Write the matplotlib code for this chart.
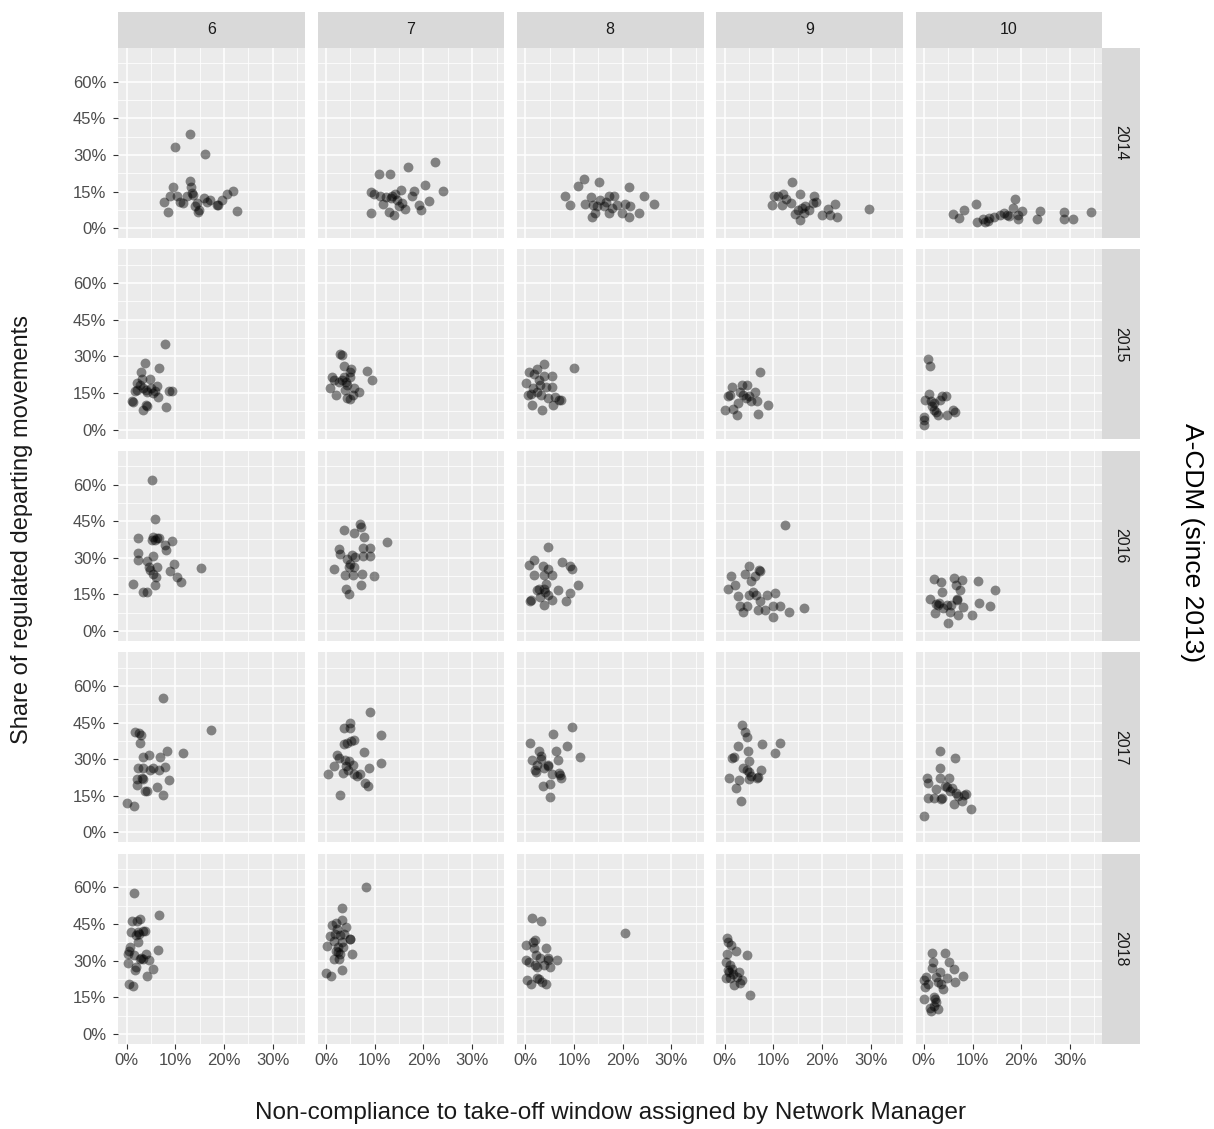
import matplotlib
matplotlib.use('Agg')
import matplotlib.pyplot as plt
from matplotlib.ticker import PercentFormatter, MultipleLocator

plt.rcParams['font.family'] = ['Liberation Sans', 'DejaVu Sans']

months = [6, 7, 8, 9, 10]
years = [2014, 2015, 2016, 2017, 2018]

# values in percent: x = non-compliance, y = share of regulated departures
# ---- 2014 ----
x14_6 = [7.7, 8.4, 9.5, 9.9, 8.9, 10.4, 11.6, 12.9, 13.0, 13.2, 13.4, 13.7, 12.3, 14.0, 14.7, 14.9, 16.1, 15.8, 16.4, 17.1, 18.5, 18.8, 19.5, 20.5, 21.9, 22.7, 11.0, 14.4]
y14_6 = [10.9, 6.7, 16.9, 33.2, 13.2, 13.0, 10.2, 38.6, 19.4, 16.8, 14.3, 13.5, 13.0, 8.9, 6.5, 7.5, 30.3, 12.3, 10.9, 11.6, 9.5, 9.5, 11.6, 14.1, 15.1, 7.0, 10.9, 10.2]
x14_7 = [9.2, 9.2, 9.8, 10.9, 13.1, 11.1, 11.7, 13.0, 13.6, 13.9, 14.2, 14.6, 15.3, 15.6, 16.3, 16.8, 17.7, 18.0, 19.0, 19.5, 20.3, 21.1, 22.3, 24.0, 15.0, 13.3, 12.4]
y14_7 = [6.4, 15.0, 14.1, 22.1, 22.2, 13.0, 10.0, 6.8, 13.0, 5.5, 14.1, 11.6, 15.7, 10.2, 8.0, 25.0, 13.2, 15.4, 9.5, 7.5, 17.7, 11.2, 27.0, 15.3, 8.9, 12.3, 12.7]
x14_8 = [8.1, 9.2, 10.9, 12.1, 12.2, 13.4, 13.8, 14.4, 13.7, 15.2, 15.4, 16.2, 17.2, 17.2, 17.8, 18.3, 18.9, 19.9, 20.4, 21.2, 21.2, 21.5, 23.3, 24.3, 26.5, 16.6, 14.8]
y14_8 = [13.0, 9.5, 17.1, 20.3, 9.8, 12.6, 9.5, 6.4, 4.4, 18.8, 11.6, 8.9, 13.0, 6.1, 8.2, 13.0, 9.5, 6.4, 10.0, 16.8, 4.8, 8.9, 6.4, 13.2, 9.8, 10.9, 8.9]
x14_9 = [13.8, 15.4, 18.4, 9.7, 10.1, 11.0, 12.0, 11.8, 13.6, 14.5, 15.0, 15.4, 15.8, 16.6, 17.4, 18.2, 18.8, 19.9, 21.2, 21.7, 22.6, 23.1, 29.6, 12.6, 16.2]
y14_9 = [19.1, 14.1, 13.0, 9.5, 13.0, 13.4, 13.9, 9.5, 10.2, 5.7, 7.5, 3.4, 8.2, 8.9, 7.5, 10.2, 10.9, 5.5, 7.8, 5.5, 10.1, 4.8, 8.0, 11.9, 6.1]
x14_10 = [5.9, 7.3, 8.3, 10.7, 10.9, 12.1, 13.1, 13.3, 14.4, 15.6, 16.4, 17.4, 18.2, 18.6, 19.4, 20.2, 23.2, 23.8, 28.7, 28.8, 30.6, 34.2, 12.5, 19.3, 17.1]
y14_10 = [5.9, 4.1, 7.5, 10.0, 2.7, 3.7, 3.1, 4.1, 4.8, 5.6, 6.1, 5.0, 8.2, 11.9, 3.7, 7.2, 3.7, 7.2, 6.8, 3.7, 3.7, 6.5, 2.7, 5.5, 5.5]

# ---- 2015 ----
x15_6 = [1.2, 1.0, 3.4, 4.0, 4.2, 3.8, 2.9, 3.1, 2.2, 1.7, 3.4, 4.0, 4.8, 4.9, 5.8, 6.3, 6.5, 6.7, 7.9, 8.0, 8.6, 9.2, 2.7, 5.5, 4.2, 2.1]
y15_6 = [11.5, 11.8, 8.1, 10.1, 9.5, 27.3, 23.4, 20.9, 18.9, 15.8, 17.2, 16.2, 20.9, 16.9, 15.9, 17.8, 13.5, 25.3, 35.1, 9.1, 15.8, 15.8, 18.2, 14.9, 15.5, 16.2]
x15_7 = [0.8, 1.2, 1.6, 2.1, 2.9, 3.3, 2.6, 3.6, 3.7, 4.1, 4.4, 4.9, 5.2, 5.0, 4.4, 4.9, 5.5, 5.8, 6.7, 8.4, 9.4, 4.0, 3.3]
y15_7 = [17.2, 21.6, 20.3, 14.2, 30.9, 30.7, 19.6, 26.1, 21.6, 19.6, 18.2, 23.6, 25.0, 21.6, 13.1, 12.4, 14.2, 16.9, 15.5, 23.9, 20.3, 16.2, 20.3]
x15_8 = [0.1, 0.8, 1.2, 1.3, 1.7, 2.4, 2.4, 3.0, 3.2, 3.5, 3.9, 3.9, 4.3, 4.7, 5.4, 5.4, 5.7, 6.2, 6.9, 7.3, 10.0, 1.6, 2.8, 0.6]
y15_8 = [19.0, 23.5, 14.6, 9.9, 22.7, 24.9, 15.6, 18.1, 14.3, 7.9, 26.8, 21.8, 17.3, 12.9, 21.8, 17.3, 9.9, 13.2, 12.2, 12.2, 25.2, 17.0, 20.4, 14.3]
x15_9 = [0.1, 0.8, 1.6, 1.7, 2.5, 2.8, 3.6, 3.8, 4.3, 4.7, 5.1, 5.4, 6.2, 6.7, 6.9, 7.3, 8.9, 3.2, 1.2]
y15_9 = [7.9, 13.6, 17.3, 8.6, 6.1, 10.9, 18.1, 14.3, 12.9, 18.4, 13.6, 11.6, 15.4, 11.6, 6.5, 23.5, 9.9, 15.6, 14.3]
x15_10 = [0.1, 0.1, 0.1, 0.8, 1.2, 1.0, 0.2, 1.4, 1.6, 2.0, 2.4, 2.8, 3.3, 3.8, 4.6, 4.7, 5.9, 6.3, 2.0]
y15_10 = [5.0, 2.0, 4.1, 29.0, 25.9, 14.7, 12.2, 11.6, 9.5, 8.2, 7.1, 6.1, 12.2, 13.6, 13.6, 6.1, 8.2, 7.2, 10.9]

# ---- 2016 ----
x16_6 = [1.2, 2.3, 2.3, 2.4, 3.4, 4.2, 4.1, 4.5, 4.8, 5.1, 5.1, 5.3, 5.5, 5.8, 5.8, 6.0, 6.3, 5.8, 6.2, 6.7, 7.9, 8.1, 8.9, 9.2, 9.8, 10.3, 11.1, 15.2, 5.5]
y16_6 = [19.4, 37.9, 31.9, 29.2, 16.0, 16.0, 28.8, 26.1, 24.8, 61.7, 37.3, 30.9, 38.7, 45.7, 18.7, 22.1, 26.1, 37.3, 37.9, 37.9, 35.2, 33.3, 24.4, 36.9, 27.5, 22.1, 20.0, 25.8, 23.4]
x16_7 = [1.6, 2.6, 2.9, 3.8, 4.0, 4.2, 4.7, 4.3, 4.7, 5.0, 5.3, 5.5, 5.7, 6.0, 6.9, 7.2, 7.1, 7.4, 7.5, 7.9, 7.7, 9.1, 9.1, 9.8, 12.5, 5.7]
y16_7 = [25.2, 33.6, 31.5, 41.4, 23.0, 17.1, 15.3, 29.5, 26.1, 27.5, 31.1, 23.0, 40.3, 30.2, 43.7, 42.4, 18.9, 23.4, 34.0, 38.7, 30.6, 34.2, 30.9, 22.5, 36.3, 26.1]
x16_8 = [0.8, 0.9, 1.2, 1.7, 1.8, 2.4, 2.8, 3.0, 3.6, 3.8, 3.9, 4.1, 4.3, 4.6, 4.6, 4.7, 5.4, 5.5, 3.9, 6.7, 7.5, 8.3, 9.1, 9.1, 9.6, 10.9]
y16_8 = [27.1, 12.2, 12.6, 23.0, 29.2, 16.6, 17.3, 13.9, 26.8, 23.0, 17.3, 16.0, 19.4, 34.6, 14.6, 25.2, 23.0, 12.6, 10.6, 16.6, 28.4, 12.2, 15.7, 26.8, 25.2, 18.7]
x16_9 = [0.6, 1.3, 2.2, 2.8, 3.2, 3.8, 4.1, 4.6, 5.0, 5.4, 5.8, 6.3, 6.5, 6.8, 7.1, 7.2, 7.3, 8.3, 8.8, 9.9, 9.9, 10.3, 11.4, 12.5, 13.3, 16.3, 5.1]
y16_9 = [17.3, 22.5, 18.7, 14.3, 10.3, 7.8, 23.4, 10.3, 26.8, 20.3, 16.0, 22.7, 14.6, 8.5, 24.8, 12.2, 24.4, 8.5, 14.9, 10.3, 5.8, 15.7, 10.3, 43.3, 7.8, 9.6, 14.6]
x16_10 = [1.2, 2.0, 2.2, 3.0, 3.2, 3.6, 3.8, 3.9, 4.7, 4.9, 5.4, 6.2, 6.5, 6.7, 6.9, 7.1, 7.5, 7.9, 8.1, 9.9, 11.2, 11.4, 13.6, 14.6, 5.5, 2.4]
y16_10 = [13.3, 21.4, 7.2, 10.6, 11.6, 20.0, 16.0, 9.5, 10.8, 3.1, 7.8, 21.6, 18.7, 12.6, 13.3, 6.5, 16.6, 20.7, 9.9, 6.5, 20.4, 11.6, 10.3, 16.6, 10.6, 11.2]

# ---- 2017 ----
x17_6 = [0.1, 1.4, 1.7, 2.1, 2.2, 2.4, 2.6, 2.9, 2.7, 3.1, 3.3, 3.4, 3.4, 3.8, 4.2, 4.5, 4.7, 5.5, 6.3, 6.7, 6.8, 7.4, 7.5, 7.9, 8.2, 8.6, 11.5, 17.3]
y17_6 = [12.2, 10.8, 41.1, 21.7, 19.6, 26.2, 40.7, 40.0, 36.6, 22.4, 21.7, 30.8, 26.2, 16.9, 16.9, 31.8, 25.7, 26.2, 18.6, 25.7, 30.8, 55.1, 15.3, 26.7, 33.2, 21.3, 32.5, 42.0]
x17_7 = [0.5, 1.6, 2.3, 2.6, 2.9, 3.5, 3.6, 3.8, 4.0, 4.2, 4.3, 4.5, 4.9, 5.0, 5.1, 5.7, 5.5, 5.8, 6.4, 6.9, 7.9, 8.1, 8.6, 8.8, 9.1, 11.3, 11.3, 4.7]
y17_7 = [24.0, 27.1, 31.6, 30.5, 15.3, 24.4, 42.7, 36.2, 29.8, 27.1, 36.6, 25.7, 44.7, 42.7, 37.3, 37.9, 27.8, 24.0, 23.0, 24.0, 32.9, 20.3, 19.0, 26.2, 49.5, 40.0, 28.5, 29.1]
x17_8 = [1.0, 1.4, 2.0, 2.2, 2.8, 3.2, 3.3, 3.6, 3.9, 4.6, 4.7, 5.0, 5.0, 5.4, 5.7, 6.3, 6.7, 6.9, 7.3, 7.1, 8.5, 9.6, 11.3, 2.4]
y17_8 = [36.6, 29.8, 25.7, 24.8, 33.2, 31.2, 30.2, 19.0, 26.4, 27.8, 27.1, 19.9, 14.5, 24.0, 40.2, 33.2, 29.8, 24.4, 22.1, 23.4, 35.5, 43.2, 31.0, 27.8]
x17_9 = [0.9, 1.6, 2.0, 2.4, 2.8, 3.0, 3.3, 3.6, 4.1, 4.7, 4.9, 5.1, 5.1, 5.1, 5.4, 4.7, 6.7, 6.9, 7.5, 7.7, 10.3, 11.4, 3.8]
y17_9 = [22.4, 30.5, 30.8, 18.0, 35.5, 21.3, 12.9, 43.8, 41.1, 38.9, 33.5, 29.1, 24.8, 21.7, 23.0, 25.7, 22.4, 22.6, 25.7, 36.2, 32.5, 36.6, 26.4]
x17_10 = [0.1, 0.6, 0.8, 0.9, 2.0, 2.5, 3.3, 3.3, 3.3, 3.6, 3.8, 4.7, 5.1, 5.4, 5.7, 6.2, 6.3, 6.5, 7.1, 7.9, 8.3, 8.7, 9.7, 4.3]
y17_10 = [6.8, 22.1, 20.3, 14.2, 14.2, 17.6, 33.2, 26.2, 22.4, 13.6, 14.2, 18.6, 22.4, 16.9, 18.3, 11.5, 30.5, 16.3, 14.9, 12.9, 15.3, 15.9, 9.5, 19.0]

# ---- 2018 ----
x18_6 = [0.3, 0.5, 0.7, 0.3, 0.5, 0.8, 1.0, 1.2, 1.5, 1.4, 1.7, 1.9, 1.9, 2.2, 2.4, 2.6, 2.4, 2.7, 2.9, 3.4, 3.8, 3.4, 4.0, 4.2, 4.5, 5.5, 6.5, 6.6, 2.7]
y18_6 = [28.8, 33.8, 35.5, 32.8, 20.6, 41.7, 46.1, 19.7, 57.7, 32.2, 26.1, 27.4, 40.6, 46.4, 41.7, 41.0, 37.6, 47.1, 31.1, 42.3, 42.3, 30.5, 32.6, 23.7, 30.1, 26.7, 34.2, 48.8, 30.8]
x18_7 = [0.1, 0.3, 0.8, 1.1, 1.2, 1.6, 1.7, 1.9, 2.1, 2.3, 2.1, 2.4, 2.4, 2.8, 2.9, 3.2, 3.3, 3.3, 3.3, 3.5, 3.6, 4.2, 4.9, 5.0, 5.3, 8.3, 2.6]
y18_7 = [25.1, 36.0, 40.0, 23.7, 44.6, 30.8, 37.9, 41.0, 45.5, 43.0, 33.8, 33.5, 35.5, 40.3, 32.8, 51.4, 46.8, 37.6, 26.1, 35.5, 41.0, 43.7, 38.7, 38.7, 32.8, 60.0, 30.8]
x18_8 = [0.1, 0.2, 0.4, 1.2, 1.4, 1.6, 1.7, 2.0, 2.2, 2.4, 2.5, 2.8, 3.0, 3.2, 3.5, 3.9, 4.2, 4.3, 4.6, 4.7, 5.1, 6.5, 20.5, 0.8, 2.0]
y18_8 = [36.5, 30.1, 22.0, 20.6, 47.5, 37.6, 35.1, 38.3, 32.2, 27.4, 22.9, 22.4, 31.1, 46.4, 21.3, 28.1, 20.6, 35.1, 31.1, 30.1, 27.4, 30.1, 41.4, 29.4, 28.1]
x18_9 = [0.4, 0.8, 0.2, 0.4, 0.2, 0.6, 0.9, 1.2, 1.4, 1.6, 1.8, 2.0, 2.4, 2.5, 3.0, 3.2, 3.6, 4.5, 5.3, 1.2]
y18_9 = [39.2, 37.6, 29.4, 32.8, 22.7, 26.1, 25.4, 22.7, 36.5, 26.7, 24.7, 19.9, 33.8, 23.3, 25.4, 21.0, 22.0, 32.2, 16.1, 28.1]
x18_10 = [0.1, 0.2, 0.1, 0.4, 0.8, 1.2, 1.4, 1.6, 1.7, 1.8, 2.0, 2.0, 2.2, 2.5, 3.0, 2.5, 3.0, 3.3, 3.9, 4.3, 5.1, 4.7, 6.2, 6.3, 8.1, 3.6]
y18_10 = [22.0, 19.3, 14.2, 23.3, 20.6, 10.4, 9.4, 27.0, 33.2, 29.4, 15.2, 11.5, 14.2, 13.2, 10.2, 23.3, 21.3, 25.4, 18.3, 33.2, 29.4, 22.7, 26.5, 21.3, 23.7, 20.3]

panels = {
    (2014, 6): (x14_6, y14_6), (2014, 7): (x14_7, y14_7), (2014, 8): (x14_8, y14_8),
    (2014, 9): (x14_9, y14_9), (2014, 10): (x14_10, y14_10),
    (2015, 6): (x15_6, y15_6), (2015, 7): (x15_7, y15_7), (2015, 8): (x15_8, y15_8),
    (2015, 9): (x15_9, y15_9), (2015, 10): (x15_10, y15_10),
    (2016, 6): (x16_6, y16_6), (2016, 7): (x16_7, y16_7), (2016, 8): (x16_8, y16_8),
    (2016, 9): (x16_9, y16_9), (2016, 10): (x16_10, y16_10),
    (2017, 6): (x17_6, y17_6), (2017, 7): (x17_7, y17_7), (2017, 8): (x17_8, y17_8),
    (2017, 9): (x17_9, y17_9), (2017, 10): (x17_10, y17_10),
    (2018, 6): (x18_6, y18_6), (2018, 7): (x18_7, y18_7), (2018, 8): (x18_8, y18_8),
    (2018, 9): (x18_9, y18_9), (2018, 10): (x18_10, y18_10),
}

# layout in pixels
W, H = 1214, 1129
fig = plt.figure(figsize=(W / 100, H / 100), dpi=100)


def box(left, top, width, height):
    return [left / W, 1 - (top + height) / H, width / W, height / H]


def strip_axes(rect, label, rotation):
    sa = fig.add_axes(rect)
    sa.set_facecolor('#D9D9D9')
    sa.set_xticks([])
    sa.set_yticks([])
    for s in sa.spines.values():
        s.set_visible(False)
    sa.text(0.5, 0.5, label, ha='center', va='center', rotation=rotation,
            fontsize=11.5, color='#1A1A1A', transform=sa.transAxes)


panel_l, panel_t = 118.3, 48
panel_w, panel_h = 186.7, 190
step_x, step_y = 199.3, 201.4
strip = 36

for r, year in enumerate(years):
    for c, month in enumerate(months):
        left = panel_l + c * step_x
        top = panel_t + r * step_y
        ax = fig.add_axes(box(left, top, panel_w, panel_h))
        ax.set_facecolor('#EBEBEB')
        for s in ax.spines.values():
            s.set_visible(False)
        ax.set_xlim(-1.72, 36.6)
        ax.set_ylim(-4.0, 73.8)
        ax.xaxis.set_major_locator(MultipleLocator(10))
        ax.xaxis.set_minor_locator(MultipleLocator(5))
        ax.yaxis.set_major_locator(MultipleLocator(15))
        ax.yaxis.set_minor_locator(MultipleLocator(7.5))
        ax.grid(which='major', color='white', lw=1.1)
        ax.grid(which='minor', color='white', lw=0.55)
        ax.set_axisbelow(True)
        ax.tick_params(which='minor', length=0)
        ax.xaxis.set_major_formatter(PercentFormatter(100, decimals=0))
        ax.yaxis.set_major_formatter(PercentFormatter(100, decimals=0))
        ax.tick_params(which='major', length=3.5, width=0.8, color='#333333',
                       labelsize=12, labelcolor='#4D4D4D', pad=3)
        ax.tick_params(axis='y', pad=5)
        if c != 0:
            ax.tick_params(axis='y', length=0, labelleft=False)
        if r != len(years) - 1:
            ax.tick_params(axis='x', length=0, labelbottom=False)

        xs, ys = panels[(year, month)]
        ax.scatter(xs, ys, s=50, color='black', alpha=0.45, linewidths=0)

        if r == 0:
            strip_axes(box(left, top - strip, panel_w, strip), str(month), 0)
        if c == len(months) - 1:
            strip_axes(box(left + panel_w, top, strip + 2, panel_h), str(year), -90)

# axis titles
mid_x = (panel_l + (4 * step_x + panel_w) / 2) / W
fig.text(22 / W, 1 - 530 / H, 'Share of regulated departing movements', rotation=90,
         ha='center', va='center', fontsize=17, color='#1A1A1A')
fig.text(mid_x, 1 - 1113 / H, 'Non-compliance to take-off window assigned by Network Manager',
         ha='center', va='center', fontsize=17.5, color='#1A1A1A')
fig.text(1192 / W, 1 - 543 / H, 'A-CDM (since 2013)', rotation=-90,
         ha='center', va='center', fontsize=19, color='black')

fig.savefig('out.png', dpi=100)
